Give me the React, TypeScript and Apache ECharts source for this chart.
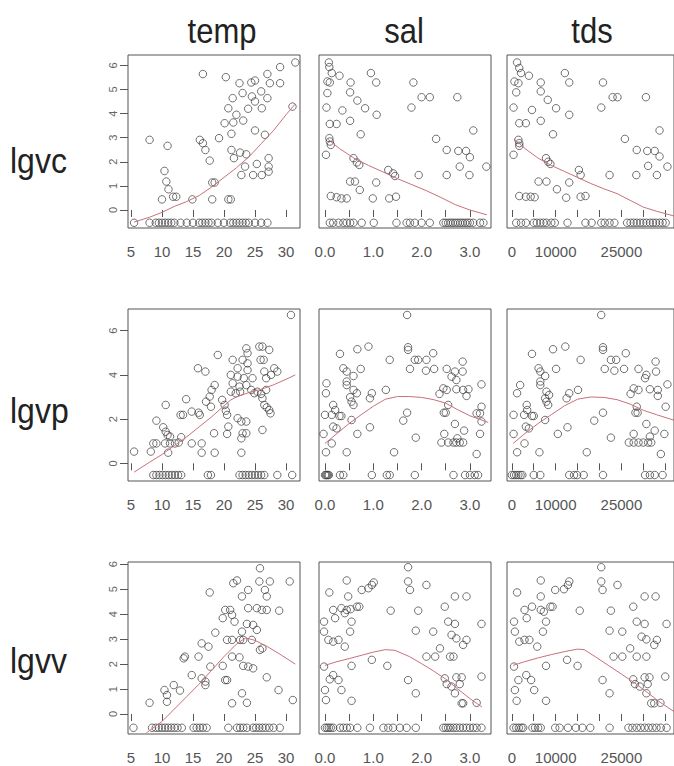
import React, { useEffect, useRef } from "react";
import * as echarts from "echarts";

type P = [number, number][];

const columnNames = ["temp", "sal", "tds"];
const rowNames = ["lgvc", "lgvp", "lgvv"];

// tick values / labels
const tempTicks = [5, 10, 15, 20, 25, 30];
const salTicks = [0, 0.5, 1, 1.5, 2, 2.5, 3];
const salLabels = [0, 1, 2, 3];
const tdsTicks = [0, 5000, 10000, 15000, 20000, 25000, 30000, 35000];
const tdsLabels = [0, 10000, 25000];
const lgvcTicks = [0, 1, 2, 3, 4, 5, 6];
const lgvpTicks = [0, 2, 4, 6];
const lgvvTicks = [0, 1, 2, 3, 4, 5, 6];

// value plotted for non-detects (bottom strip) in each row
const zeroLevel = [-0.53, -0.53, -0.55];

// ---------- row 1 : lgvc ----------
const tempLgvc: P = [[31.5,6.12],[29.05,5.93],[27,5.64],[16.6,5.64],[20.3,5.51],[22.5,5.26],[24.4,5.29],[25,5.37],[27.4,5.26],[29.05,5.26],[23,4.85],[26,4.92],[24.5,4.71],[27,4.64],[21.4,4.64],[25,4.5],[20.7,4.22],[23.9,4.2],[26.1,4.22],[31.05,4.29],[22,3.95],[20.1,3.6],[21.5,3.63],[23.1,3.71],[21.2,3.16],[25,3.3],[26.6,3.12],[8,2.91],[16.1,2.91],[16.6,2.77],[17,2.49],[19.2,2.98],[10.9,2.66],[21.2,2.49],[22.6,2.38],[23.6,2.31],[21.6,2.15],[17.7,2.05],[27.2,2.15],[25.3,1.91],[23.4,1.8],[27.2,1.8],[10.4,1.62],[27.2,1.59],[22.8,1.45],[24.7,1.45],[26.1,1.45],[10.7,1.18],[11.05,0.86],[11.8,0.55],[12.3,0.55],[18.1,1.14],[18.5,1.14],[10,0.44],[14.9,0.44],[18.1,0.44],[20.7,0.44],[21.1,0.44]];
const tempLgvcZero = [5.5,8,9,9.5,10,10.5,11,11.5,12,13,14,15,16,16.5,17,17.5,18,19,20,21,21.5,22,22.5,23,23.5,24,25,26,27];
const salLgvc: P = [[0.08,6.12],[0.09,5.93],[0.14,5.68],[0.3,5.57],[0.95,5.68],[1.06,5.29],[0.53,5.29],[0.05,5.33],[0.1,5.29],[1.83,5.29],[0.52,4.88],[0.05,4.85],[0.67,4.54],[2.0,4.68],[2.17,4.68],[2.74,4.68],[0.03,4.25],[0.36,4.13],[0.83,4.22],[1.07,3.95],[1.79,4.25],[0.1,3.57],[0.24,3.57],[0.52,3.7],[3.07,3.3],[0.74,3.14],[2.3,2.95],[0.09,2.98],[0.1,2.84],[0.12,2.7],[0.02,2.29],[2.52,2.49],[2.76,2.45],[2.92,2.45],[3.0,2.19],[0.59,2.15],[0.66,1.97],[0.71,1.87],[2.79,1.8],[3.34,1.8],[1.31,1.66],[1.41,1.52],[1.45,1.41],[1.94,1.45],[2.52,1.45],[2.99,1.45],[0.52,1.18],[0.62,1.18],[1.06,1.14],[0.72,0.83],[0.12,0.58],[0.24,0.53],[0.34,0.48],[0.45,0.48],[0.99,0.48],[1.33,0.48],[1.47,0.55]];
const salLgvcZero = [0.1,0.17,0.28,0.38,0.45,0.52,0.59,0.76,1.01,1.48,1.69,1.76,1.86,2.0,2.17,2.45,2.5,2.55,2.6,2.65,2.7,2.75,2.8,2.85,2.9,2.95,3.0,3.07,3.21,3.28];
const tdsLgvc: P = [[1200,6.12],[1700,5.89],[2100,5.68],[3900,5.57],[12100,5.68],[13100,5.29],[6600,5.29],[600,5.33],[1500,5.26],[20800,5.29],[6600,4.92],[1000,4.88],[8200,4.57],[23000,4.68],[24100,4.68],[30600,4.68],[400,4.25],[4600,4.15],[10100,4.22],[13100,3.95],[20400,4.25],[1700,3.6],[3200,3.6],[6600,3.7],[33700,3.3],[9400,3.14],[25800,2.95],[1500,2.91],[1700,2.77],[1700,2.66],[400,2.29],[28500,2.49],[30900,2.45],[32600,2.45],[33700,2.22],[7800,2.15],[8300,2.0],[8800,1.91],[31100,1.83],[35500,1.8],[15300,1.66],[15700,1.45],[22300,1.45],[28400,1.45],[33100,1.45],[6100,1.18],[7900,1.18],[13100,1.14],[10300,0.86],[1700,0.58],[3200,0.55],[4300,0.55],[5200,0.53],[12400,0.51],[15700,0.55],[16800,0.58]];
const tdsLgvcZero = [1000,2100,3200,5000,5700,6500,7200,7900,9000,9800,12700,16800,18200,20400,21200,22300,23400,26300,27100,27800,28500,29300,30000,30700,31500,32200,32900,33700,34400,35100];

const smoothTempLgvc: P = [[5.5,-0.5],[8,-0.3],[10,-0.1],[12,0.15],[14,0.35],[16,0.6],[18,0.95],[20,1.35],[22,1.75],[24,2.2],[26,2.75],[28,3.3],[30,3.95],[31.5,4.4]];
const smoothSalLgvc: P = [[0.05,2.95],[0.3,2.55],[0.6,2.15],[0.9,1.85],[1.2,1.58],[1.5,1.3],[1.8,1.05],[2.1,0.8],[2.4,0.52],[2.7,0.22],[3.0,0.0],[3.35,-0.2]];
const smoothTdsLgvc: P = [[500,2.95],[3000,2.55],[6000,2.15],[9000,1.85],[12000,1.6],[15000,1.35],[18000,1.1],[21000,0.88],[24000,0.68],[27000,0.4],[30000,0.12],[33000,-0.05],[37000,-0.25]];

// ---------- row 2 : lgvp ----------
const tempLgvp: P = [[30.8,6.71],[5.5,0.53],[8.2,0.53],[9.1,1.93],[10.6,2.64],[11,0.48],[8.6,0.9],[9.1,0.9],[10.5,0.9],[11.3,0.9],[12.1,0.9],[12.7,0.94],[13.1,1.18],[10.6,1.43],[10.9,1.28],[11.3,1.21],[10.2,1.63],[13.9,2.9],[13,2.19],[13.4,2.19],[14.8,0.9],[16.4,0.9],[16.4,0.48],[18.5,0.48],[14.8,2.34],[15.9,2.29],[16.1,2.19],[15.8,4.3],[17,4.15],[19,4.9],[17.1,2.79],[17.7,3.02],[18,3.32],[18.5,3.54],[17.9,2.56],[18.4,1.36],[19.7,2.87],[20.1,2.64],[20.3,2.38],[20.5,2.19],[20.7,1.66],[20.5,1.33],[21.4,4.68],[22.2,4.3],[23,4.68],[23.8,4.98],[23.6,5.2],[23.8,4.52],[23.8,4.22],[25.7,5.28],[26.2,5.28],[27.3,5.13],[25.9,4.68],[26.4,4.68],[26.5,4.15],[28.1,4.3],[28.6,4.15],[21.1,4.0],[22.2,3.92],[23.2,3.85],[24.6,3.85],[21.4,3.62],[22.5,3.47],[23.6,3.54],[24.4,3.32],[21.1,3.24],[21.9,3.17],[22.6,3.24],[24.9,3.17],[25.4,3.24],[26,3.14],[26.8,3.32],[26.2,2.94],[26.5,2.64],[26.9,2.53],[27.3,2.41],[27.5,2.26],[22.2,2.04],[22.8,1.89],[23.6,1.89],[23,1.36],[23.6,1.36],[22.8,1.13],[26.2,1.51],[22.8,0.48],[27.6,4.0],[26.8,3.85]];
const tempLgvpZero = [8.6,9.1,9.6,10.1,10.6,11.1,11.6,12.1,12.6,13.1,17.4,17.9,22.5,23,23.5,24,24.5,25,25.5,26,26.5,28.6,31];
const salLgvp: P = [[1.7,6.71],[0.31,4.95],[0.67,5.16],[0.9,5.28],[1.72,5.25],[1.72,5.13],[1.34,4.68],[1.86,4.68],[1.93,4.68],[2.1,4.68],[2.24,4.98],[2.85,4.6],[0.38,4.3],[0.45,4.15],[0.74,4.27],[1.76,4.27],[2.09,4.19],[2.26,4.27],[2.52,4.27],[2.69,4.15],[2.85,4.15],[0.59,3.95],[2.62,3.92],[2.72,3.77],[0.45,3.7],[0.45,3.54],[0.03,3.62],[3.24,3.57],[0.02,3.17],[0.59,3.32],[0.66,3.17],[0.52,2.99],[0.97,3.17],[0.93,2.94],[1.26,3.32],[2.45,3.39],[2.52,3.32],[2.72,3.35],[2.86,3.32],[2.97,3.35],[2.93,3.05],[2.37,3.14],[0.55,2.79],[0.59,2.64],[0.17,2.64],[0.21,2.41],[0.0,2.19],[0.14,2.19],[0.3,2.14],[0.34,2.14],[1.7,2.29],[2.46,2.29],[2.5,2.29],[2.55,2.64],[3.24,2.56],[3.14,2.26],[3.21,2.26],[0.17,1.66],[0.24,1.58],[0.55,1.96],[1.62,1.93],[3.24,1.89],[2.69,1.78],[0.93,1.63],[-0.03,1.33],[0.67,1.33],[2.88,1.48],[3.21,1.33],[2.47,1.33],[1.88,1.16],[0.14,0.9],[2.41,0.94],[2.55,0.94],[2.66,0.94],[2.72,0.94],[2.79,0.94],[2.86,0.94],[2.74,1.13],[0.02,0.5],[0.45,0.5],[1.43,0.5],[3.14,0.42]];
const salLgvpZero = [0,0.02,0.04,0.06,0.08,0.31,0.38,0.97,1.28,1.34,1.86,2.66,2.9,3.0,3.1,3.17];
const tdsLgvp: P = [[20400,6.71],[4600,4.95],[9400,5.16],[12200,5.28],[20800,5.25],[20800,5.13],[15700,4.68],[22600,4.68],[23800,4.68],[26000,4.98],[32800,4.6],[6100,4.3],[6500,4.15],[10100,4.27],[21200,4.27],[23400,4.19],[25600,4.27],[28900,4.27],[30700,4.0],[32900,4.15],[7600,3.95],[30400,3.85],[6500,3.7],[6500,3.54],[1900,3.54],[35500,3.57],[1200,3.17],[7900,3.24],[8500,3.09],[7600,2.94],[13100,3.17],[12500,2.94],[15100,3.32],[27800,3.39],[28900,3.32],[31500,3.35],[33300,3.32],[33300,3.05],[27100,3.14],[7900,2.79],[8300,2.64],[3400,2.64],[3500,2.41],[400,2.19],[2800,2.19],[4600,2.14],[5000,2.14],[20800,2.29],[28200,2.29],[28700,2.29],[28500,2.56],[35100,2.56],[3200,1.66],[3900,1.58],[7600,1.96],[18800,1.93],[30700,1.78],[12700,1.63],[400,1.33],[10500,1.33],[32600,1.48],[34800,1.33],[27800,1.33],[22600,1.16],[2900,0.9],[26700,0.94],[27800,0.94],[28900,0.94],[30000,0.94],[31100,0.94],[31800,0.94],[31500,1.21],[1200,0.5],[6300,0.5],[17100,0.5],[34000,0.42]];
const tdsLgvpZero = [0,500,1000,1500,2000,2400,5000,6500,13100,14200,14900,16400,20800,30400,31500,32600,34400];

const smoothTempLgvp: P = [[5.5,-0.4],[8,0.05],[10,0.4],[12,0.8],[14,1.2],[16,1.65],[18,2.1],[20,2.6],[21,2.85],[22,3.0],[24,3.2],[26,3.35],[28,3.55],[30,3.8],[31.5,4.0]];
const smoothSalLgvp: P = [[0,0.9],[0.25,1.35],[0.5,1.8],[0.75,2.2],[1.0,2.58],[1.25,2.9],[1.5,3.02],[1.75,3.02],[2.0,2.98],[2.25,2.88],[2.5,2.72],[2.75,2.42],[3.0,2.15],[3.38,1.85]];
const smoothTdsLgvp: P = [[300,0.9],[3000,1.35],[6000,1.8],[9000,2.2],[12000,2.6],[15000,2.9],[18000,3.0],[21000,2.98],[24000,2.88],[27000,2.68],[30000,2.4],[33000,2.2],[37000,1.95]];

// ---------- row 3 : lgvv ----------
const tempLgvv: P = [[25.8,5.84],[25.7,5.31],[27.4,5.31],[30.6,5.31],[21.5,5.24],[22.1,5.35],[17.7,4.87],[22.9,4.71],[23.9,4.97],[26.6,4.97],[26.9,4.71],[20.2,4.17],[21,4.17],[23.9,4.24],[25.3,4.24],[26.1,4.17],[26.9,4.17],[28.9,4.14],[21.3,3.97],[19.8,3.84],[21.7,3.7],[23.7,3.61],[24.7,3.57],[25.3,3.37],[18.6,3.26],[22.9,3.3],[20.5,2.97],[21.3,2.97],[22.6,2.97],[23.1,2.97],[24.5,2.97],[16.4,2.83],[17.5,2.7],[26.2,2.63],[25.8,2.57],[13.5,2.23],[13.7,2.3],[15.9,2.3],[21.3,2.3],[22.5,2.27],[23.1,1.93],[23.9,1.9],[24.7,1.83],[17.8,1.9],[19.8,1.93],[14.8,1.56],[16.4,1.43],[17,1.3],[17,1.16],[20.2,1.36],[20.5,1.36],[26.9,1.47],[28.8,0.96],[11.9,1.16],[12.9,0.94],[10.4,0.96],[10.8,0.76],[10.8,0.49],[8,0.45],[22.9,0.83],[21.3,0.43],[23.7,0.45],[31.1,0.56]];
const tempLgvvZero = [5.4,8.4,9,9.5,10,10.5,11,11.5,12,12.5,13.2,15.1,15.6,16.1,16.6,17.2,20.7,22.1,22.6,23.1,23.7,24.7,25.2,25.7,26.2,26.7,27.3,28,29];
const salLgvv: P = [[1.72,5.88],[0.45,5.35],[1.72,5.31],[1.76,4.97],[2.1,5.17],[0.09,4.87],[0.76,4.97],[0.9,5.04],[0.97,5.17],[1.01,5.27],[0.48,4.71],[2.69,4.71],[2.93,4.71],[0.17,4.17],[0.34,4.24],[0.45,4.17],[0.53,4.2],[0.66,4.3],[0.71,4.3],[2.48,4.3],[1.36,4.14],[1.93,4.14],[0.21,3.84],[0.41,4.04],[-0.02,3.7],[0.55,3.7],[2.55,3.7],[2.69,3.61],[3.24,3.61],[-0.02,3.3],[0.52,3.3],[1.88,3.34],[2.24,3.3],[2.62,3.17],[2.72,3.03],[2.93,2.97],[2.86,2.77],[0.07,2.97],[0.17,2.9],[0.28,2.97],[0.41,2.7],[2.38,2.63],[2.1,2.3],[2.28,2.3],[2.59,2.3],[2.66,2.3],[0.97,2.17],[-0.02,1.9],[0.55,1.93],[1.29,1.93],[0.17,1.56],[0.1,1.39],[0.28,1.36],[0.34,0.96],[0.0,0.96],[1.72,1.36],[2.48,1.43],[2.72,1.47],[2.83,1.47],[2.52,1.2],[2.62,1.1],[2.79,1.2],[3.24,1.5],[1.88,0.83],[2.69,0.83],[0.02,0.56],[0.55,0.53],[2.83,0.43],[2.86,0.43],[3.14,0.45]];
const salLgvvZero = [0,0.04,0.08,0.12,0.17,0.31,0.38,0.45,0.52,0.67,0.93,1.21,1.31,1.41,1.55,1.69,1.88,2.45,2.5,2.55,2.6,2.66,2.72,2.79,2.86,2.93,3.0,3.07,3.14,3.24];
const tdsLgvv: P = [[20400,5.88],[6600,5.35],[20400,5.31],[20700,4.97],[24100,5.17],[1200,4.87],[9900,4.97],[11900,5.0],[12800,5.17],[13100,5.31],[6600,4.71],[30300,4.71],[32800,4.71],[2900,4.17],[4600,4.3],[6600,4.17],[8800,4.3],[9300,4.3],[27700,4.3],[15500,4.14],[22600,4.14],[3400,3.84],[7300,4.1],[500,3.7],[7800,3.7],[28500,3.7],[30300,3.61],[35300,3.61],[700,3.3],[7100,3.3],[22300,3.34],[25200,3.3],[29600,3.1],[30700,2.99],[33100,2.97],[32500,2.77],[1700,2.9],[2900,2.97],[4000,2.97],[5800,2.7],[27000,2.63],[23200,2.3],[25200,2.3],[28500,2.3],[30700,2.3],[12600,2.17],[500,1.9],[7800,1.93],[15000,1.93],[3300,1.56],[1500,1.36],[4400,1.36],[5100,0.96],[700,0.96],[20700,1.36],[27700,1.39],[30300,1.47],[31400,1.47],[28100,1.2],[29200,1.1],[31000,1.2],[35000,1.5],[22300,0.83],[30700,0.83],[1100,0.53],[7800,0.53],[31800,0.43],[32500,0.43],[33900,0.45]];
const tdsLgvvZero = [400,1000,1600,2200,2600,4700,5300,6000,6600,9900,10900,12800,14600,16100,17900,22300,26600,27500,28500,29400,30300,31200,32100,33000,34000,35300];

const smoothTempLgvv: P = [[7.5,-0.75],[10,-0.3],[12,0.2],[14,0.7],[16,1.2],[18,1.75],[20,2.3],[22,2.8],[23.5,3.05],[25,2.95],[27,2.7],[29,2.4],[31.5,2.0]];
const smoothSalLgvv: P = [[0,1.95],[0.25,2.1],[0.5,2.22],[0.75,2.35],[1.0,2.48],[1.25,2.58],[1.45,2.55],[1.75,2.3],[2.0,2.02],[2.25,1.72],[2.5,1.4],[2.75,1.0],[3.0,0.62],[3.25,0.28]];
const smoothTdsLgvv: P = [[300,1.95],[3000,2.1],[6000,2.25],[9000,2.38],[12000,2.5],[15000,2.6],[16500,2.58],[19000,2.3],[22000,1.95],[25000,1.6],[28000,1.25],[31000,0.85],[34000,0.45],[37000,0.1]];

const points: P[][] = [
  [tempLgvc, salLgvc, tdsLgvc],
  [tempLgvp, salLgvp, tdsLgvp],
  [tempLgvv, salLgvv, tdsLgvv],
];
const zeros: number[][][] = [
  [tempLgvcZero, salLgvcZero, tdsLgvcZero],
  [tempLgvpZero, salLgvpZero, tdsLgvpZero],
  [tempLgvvZero, salLgvvZero, tdsLgvvZero],
];
const smooths: P[][] = [
  [smoothTempLgvc, smoothSalLgvc, smoothTdsLgvc],
  [smoothTempLgvp, smoothSalLgvp, smoothTdsLgvp],
  [smoothTempLgvv, smoothSalLgvv, smoothTdsLgvv],
];

// layout
const GRID_LEFT = [128, 319, 507];
const GRID_WIDTH = [172, 172, 173];
const GRID_TOP = [55, 309, 562];
const GRID_HEIGHT = [173, 172, 172];
const X_RANGE = [[4.52, 32.26], [-0.124, 3.437], [-1100, 37000]];
const Y_RANGE = [[-0.747, 6.43], [-0.8, 6.98], [-0.8, 6.09]];
const xTicks = [tempTicks, salTicks, tdsTicks];
const xLabels = [tempTicks, salLabels, tdsLabels];
const yTicks = [lgvcTicks, lgvpTicks, lgvvTicks];
const xFmt = [
  (v: number) => String(v),
  (v: number) => v.toFixed(1),
  (v: number) => String(v),
];
const TITLE_X = [222, 404, 592];
const ROW_Y = [160, 410, 660];

function buildOption() {
  const grid: any[] = [];
  const xAxis: any[] = [];
  const yAxis: any[] = [];
  const series: any[] = [];
  for (let r = 0; r < 3; r++) {
    for (let c = 0; c < 3; c++) {
      const i = r * 3 + c;
      grid.push({
        left: GRID_LEFT[c], top: GRID_TOP[r], width: GRID_WIDTH[c], height: GRID_HEIGHT[r],
        show: true, borderColor: "#555", borderWidth: 1, backgroundColor: "transparent",
      });
      xAxis.push({
        type: "value", gridIndex: i, min: X_RANGE[c][0], max: X_RANGE[c][1],
        axisLine: { show: false }, splitLine: { show: false },
        axisTick: { show: true, length: 7, customValues: xTicks[c], lineStyle: { color: "#555", width: 1 } },
        axisLabel: {
          show: true, customValues: xLabels[c], formatter: xFmt[c], fontSize: 15,
          color: "#555", margin: 16, fontFamily: "Liberation Sans, Arial, sans-serif",
        },
      });
      yAxis.push({
        type: "value", gridIndex: i, min: Y_RANGE[r][0], max: Y_RANGE[r][1],
        axisLine: { show: false }, splitLine: { show: false },
        axisTick: { show: c === 0, length: 8, customValues: yTicks[r], lineStyle: { color: "#555", width: 1 } },
        axisLabel: {
          show: c === 0, customValues: yTicks[r], rotate: 90, fontSize: 11, margin: 10,
          color: "#666", fontFamily: "Liberation Sans, Arial, sans-serif",
        },
      });
      const data = points[r][c].concat(zeros[r][c].map((x) => [x, zeroLevel[r]] as [number, number]));
      series.push({
        type: "scatter", xAxisIndex: i, yAxisIndex: i, data, symbol: "circle", symbolSize: 7.5,
        itemStyle: { color: "rgba(0,0,0,0)", borderColor: "#3a3a3a", borderWidth: 0.9 },
        clip: true, silent: true,
      });
      series.push({
        type: "line", xAxisIndex: i, yAxisIndex: i, data: smooths[r][c], symbol: "none",
        lineStyle: { color: "#c8707a", width: 1 }, clip: true, silent: true,
      });
    }
  }
  const graphic: any[] = [];
  columnNames.forEach((t, c) => {
    graphic.push({
      type: "text", x: TITLE_X[c], y: 31, scaleY: 1.12,
      style: { text: t, fontSize: 31, fill: "#222", align: "center", verticalAlign: "middle", fontFamily: "Liberation Sans, Arial, sans-serif" },
    });
  });
  rowNames.forEach((t, r) => {
    graphic.push({
      type: "text", x: 10, y: ROW_Y[r], scaleY: 1.12,
      style: { text: t, fontSize: 32, fill: "#222", align: "left", verticalAlign: "middle", fontFamily: "Liberation Sans, Arial, sans-serif" },
    });
  });
  return { animation: false, backgroundColor: "#fff", grid, xAxis, yAxis, series, graphic };
}

export default function App() {
  const ref = useRef<HTMLDivElement>(null);
  useEffect(() => {
    if (!ref.current) return;
    const chart = echarts.init(ref.current, undefined, { renderer: "svg" });
    chart.setOption(buildOption() as any);
    return () => chart.dispose();
  }, []);
  return (
    <div
      ref={ref}
      style={{ position: "fixed", left: 0, top: 0, width: 674, height: 766, background: "#fff" }}
    />
  );
}
